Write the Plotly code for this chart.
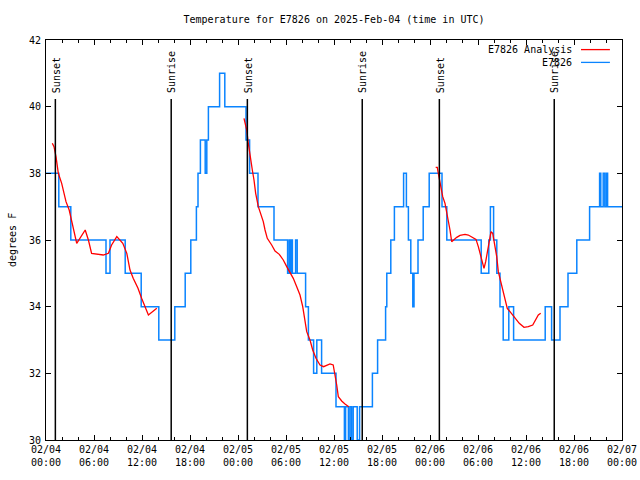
import pandas as pd
import plotly.graph_objects as go

START = pd.Timestamp("2025-02-04 00:00")
END = START + pd.Timedelta(hours=72)

# Observed temperatures (E7826): hours after start where a new reading level begins
obs_hours = [0.0, 1.6, 3.1, 7.5, 8.0, 9.9, 11.9, 14.1, 16.1, 17.4, 18.1, 18.8, 19.0, 19.3,
             19.9, 20.1, 20.3, 21.7, 22.35, 25.0, 25.45, 26.5, 28.5, 30.2, 30.4, 30.5,
             30.65, 30.8, 31.2, 31.4, 32.45, 32.8, 33.45, 33.85, 34.45, 36.25, 37.3,
             37.45, 37.8, 38.0, 38.2, 38.4, 38.9, 39.2, 40.8, 41.45, 42.45, 42.6, 43.1,
             43.55, 44.7, 45.05, 45.3, 45.6, 45.85, 46.0, 46.5, 47.15, 47.9, 49.5, 50.1,
             54.4, 55.35, 55.55, 55.95, 56.35, 56.75, 57.15, 57.85, 58.45, 62.4, 63.2,
             64.25, 65.25, 66.35, 67.95, 69.2, 69.35, 69.65, 69.85, 70.05, 70.2, 72.0]
obs_temps = [38, 37, 36, 35, 36, 35, 34, 33, 34, 35, 36, 37, 38, 39,
             38, 39, 40, 41, 40, 39, 38, 37, 36, 35, 36, 35,
             36, 35, 36, 35, 34, 33, 32, 33, 32, 31, 30,
             31, 30, 31, 30, 31, 30, 31, 32, 33, 34, 35, 36,
             37, 38, 37, 36, 35, 34, 35, 36, 37, 38, 37, 36,
             35, 36, 37, 36, 35, 34, 33, 34, 33, 34, 33,
             34, 35, 36, 37, 38, 37, 38, 37, 38, 37, 37]

# Analysis (E7826 Analysis): three evening segments, separated by None
ana_hours = [0.79, 1.0, 1.25, 1.54, 1.96, 2.5, 2.9, 3.2, 3.54, 3.84, 4.9, 5.3, 5.7, 7.15,
             7.8, 8.2, 8.85, 9.6, 10.1, 10.5, 10.9, 11.5, 11.95, 12.4, 12.8, 13.85,
             None,
             24.75, 25.09, 25.29, 25.5, 25.79, 26.0, 26.21, 26.54, 26.84, 27.16, 27.38,
             27.66, 28.21, 28.63, 29.16, 29.66, 30.09, 30.5, 30.91, 31.34, 31.75, 32.09,
             32.38, 32.59, 33.0, 33.34, 33.75, 34.25, 34.7, 35.5, 35.9, 36.1, 36.34,
             36.54, 36.96, 37.375, 37.85,
             None,
             48.71, 48.91, 49.04, 49.25, 49.59, 49.875, 50.09, 50.29, 50.5, 50.71, 50.91,
             51.34, 51.75, 52.375, 52.79, 53.41, 53.75, 54.04, 54.34, 54.54, 54.75,
             54.96, 55.21, 55.375, 55.625, 55.84, 56.04, 56.34, 56.54, 56.84, 57.09,
             57.375, 57.66, 58.0, 58.625, 59.16, 59.75, 60.29, 60.84, 61.21, 61.54, 61.84]
ana_temps = [38.9, 38.8, 38.5, 38.0, 37.7, 37.15, 36.9, 36.6, 36.2, 35.9, 36.3, 36.0, 35.6, 35.55,
             35.6, 35.85, 36.1, 35.9, 35.6, 35.1, 34.85, 34.55, 34.25, 34.0, 33.75, 33.95,
             None,
             39.65, 39.3, 38.9, 38.5, 38.1, 37.8, 37.4, 37.0, 36.8, 36.55, 36.3,
             36.05, 35.85, 35.67, 35.57, 35.4, 35.2, 35.02, 34.85, 34.6, 34.35, 34.0,
             33.6, 33.25, 33.0, 32.7, 32.45, 32.25, 32.2, 32.28, 32.25, 32.0, 31.65,
             31.3, 31.17, 31.08, 31.0,
             None,
             38.18, 38.18, 38.0, 37.7, 37.3, 37.1, 36.85, 36.55, 36.3, 35.95, 36.0,
             36.08, 36.14, 36.17, 36.15, 36.07, 36.02, 35.8, 35.5, 35.3, 35.15,
             35.35, 35.7, 35.9, 36.25, 36.2, 35.9, 35.5, 35.05, 34.75, 34.45,
             34.2, 33.95, 33.85, 33.65, 33.5, 33.38, 33.4, 33.45, 33.62, 33.75, 33.8]

sun_labels = ["Sunset", "Sunrise", "Sunset", "Sunrise", "Sunset", "Sunrise"]
sun_hours = [1.17, 15.65, 25.17, 39.53, 49.17, 63.53]

y_ticks = [30, 32, 34, 36, 38, 40, 42]

FONT = "DejaVu Sans Mono"
BLUE = "#0a84ff"
RED = "#ff0000"


def to_time(hours):
    return [None if h is None else START + pd.Timedelta(hours=h) for h in hours]


fig = go.Figure()
fig.add_trace(go.Scatter(x=to_time(obs_hours), y=obs_temps, mode="lines",
                         line=dict(color=BLUE, width=1.5, shape="hv"),
                         name="E7826", showlegend=False))
fig.add_trace(go.Scatter(x=to_time(ana_hours), y=ana_temps, mode="lines",
                         line=dict(color=RED, width=1.3), connectgaps=False,
                         name="E7826 Analysis", showlegend=False))

LINE_TOP = 0.8525
for lab, h in zip(sun_labels, sun_hours):
    t = START + pd.Timedelta(hours=h)
    fig.add_shape(type="line", xref="x", yref="paper", x0=t, x1=t, y0=0, y1=LINE_TOP,
                  line=dict(color="black", width=1.5))
    fig.add_annotation(x=t, xref="x", y=0.863, yref="paper", text=lab, textangle=-90,
                       showarrow=False, xanchor="center", yanchor="bottom", xshift=1,
                       font=dict(family=FONT, size=10, color="black"))

# gnuplot-style legend: text right-aligned, sample line to the right
legend_items = [("E7826 Analysis", RED, 0.976), ("E7826", BLUE, 0.944)]
for name, col, yy in legend_items:
    fig.add_annotation(x=0.917, xref="paper", y=yy, yref="paper", text=name,
                       showarrow=False, xanchor="right", yanchor="middle",
                       font=dict(family=FONT, size=10, color="black"))
    fig.add_shape(type="line", xref="paper", yref="paper", x0=0.9288, x1=0.979,
                  y0=yy, y1=yy, line=dict(color=col, width=1.3))

fig.add_annotation(x=-0.059, xref="paper", y=0.5, yref="paper", text="degrees F",
                   textangle=-90, showarrow=False, xanchor="center", yanchor="middle",
                   font=dict(family=FONT, size=10, color="black"))

axis_common = dict(ticks="inside", tickcolor="black", showline=True, linecolor="black",
                   linewidth=1, mirror="allticks", showgrid=False, zeroline=False,
                   automargin=False,
                   tickfont=dict(family=FONT, size=10, color="black"))

fig.update_layout(
    width=640, height=480,
    margin=dict(l=46, r=18, t=40, b=40, autoexpand=False),
    paper_bgcolor="white", plot_bgcolor="white",
    title=dict(text="Temperature for E7826 on 2025-Feb-04 (time in UTC)", x=0.5,
               xref="paper", xanchor="center", y=1 - 19 / 480, yanchor="middle",
               font=dict(family=FONT, size=10, color="black")),
    xaxis=dict(type="date", range=[START, END], tick0=START, dtick=6 * 3600 * 1000,
               tickformat="%m/%d<br>%H:%M", ticklen=5,
               minor=dict(dtick=2 * 3600 * 1000, ticks="inside", ticklen=3,
                          tickcolor="black", showgrid=False),
               **axis_common),
    yaxis=dict(range=[30, 42], tickvals=y_ticks, ticklen=5, ticklabelstandoff=2,
               **axis_common),
    showlegend=False,
)

fig.write_html("out.html", config={"displayModeBar": False},
               post_script="document.body.style.margin='0';document.body.style.padding='0';"
                           "document.documentElement.style.overflow='hidden';")
